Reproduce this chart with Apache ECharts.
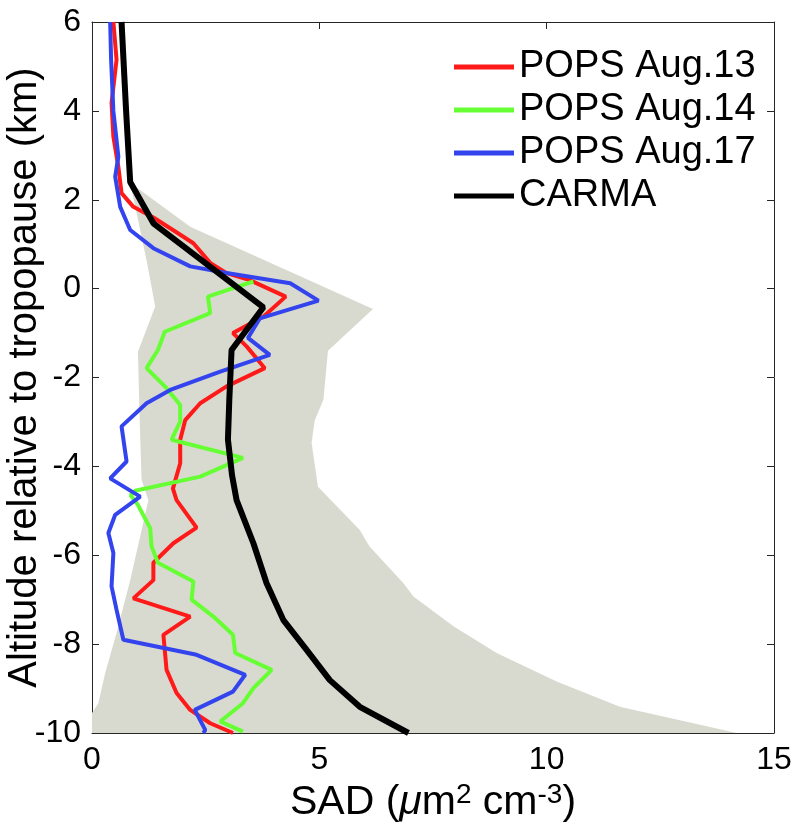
<!DOCTYPE html>
<html>
<head>
<meta charset="UTF-8">
<title>SAD profiles</title>
<script src="https://cdn.jsdelivr.net/npm/echarts@6/dist/echarts.min.js"></script>
<style>
  html, body { margin: 0; padding: 0; background: #fff; }
  #main { width: 796px; height: 838px; }
</style>
</head>
<body>
<div id="main"></div>
<script>
    // SAD (um^2 cm^-3) against altitude relative to tropopause (km)
    let aug13SAD = [0.47, 0.54, 0.43, 0.47, 0.58, 0.65, 0.91, 1.35, 1.78, 2.23, 2.6, 2.96, 3.47, 4.26, 3.78, 3.1, 3.4, 3.8, 2.96, 2.38, 2.05, 1.94, 1.94, 1.78, 1.86, 2.3, 1.79, 1.35, 1.35, 0.91, 2.16, 1.57, 1.64, 1.86, 2.16, 2.6, 3.1];
    let aug13Alt = [6, 5.15, 4.18, 3.42, 2.74, 2.15, 1.84, 1.6, 1.32, 1.02, 0.58, 0.35, 0.19, -0.18, -0.62, -1.0, -1.3, -1.79, -2.2, -2.58, -2.96, -3.4, -3.93, -4.5, -4.76, -5.38, -5.73, -6.17, -6.56, -6.97, -7.38, -7.79, -8.58, -9.1, -9.48, -9.78, -10];

    let aug14SAD = [3.55, 3.1, 2.55, 2.6, 1.6, 1.45, 1.2, 1.64, 1.94, 1.94, 1.75, 3.32, 2.38, 0.95, 0.85, 1.0, 1.28, 1.31, 1.45, 2.23, 2.19, 2.67, 3.1, 3.15, 3.95, 3.55, 3.32, 2.82, 3.32];
    let aug14Alt = [0.16, 0.01, -0.18, -0.55, -0.97, -1.38, -1.79, -2.24, -2.62, -2.99, -3.4, -3.81, -4.23, -4.55, -4.65, -4.85, -5.39, -5.8, -6.17, -6.59, -7.0, -7.38, -7.79, -8.2, -8.58, -8.99, -9.33, -9.74, -9.97];

    let aug17SAD = [0.4, 0.42, 0.47, 0.58, 0.51, 0.62, 0.84, 1.35, 2.16, 2.96, 4.36, 4.98, 3.69, 3.43, 3.91, 2.82, 1.72, 1.2, 0.65, 0.76, 0.4, 1.06, 0.51, 0.36, 0.47, 0.43, 0.54, 0.69, 2.3, 3.37, 3.1, 2.26, 2.49, 2.45];
    let aug17Alt = [6, 5.15, 4.0, 2.97, 2.52, 1.84, 1.32, 0.91, 0.5, 0.35, 0.12, -0.27, -0.67, -1.11, -1.49, -1.87, -2.28, -2.58, -3.1, -3.89, -4.27, -4.68, -5.09, -5.5, -5.95, -6.7, -7.23, -7.9, -8.24, -8.69, -9.07, -9.48, -9.93, -10];

    let carmaSAD = [0.65, 0.75, 0.84, 1.35, 3.77, 3.07, 3.02, 2.99, 3.08, 3.18, 3.55, 3.84, 4.21, 4.72, 5.23, 5.89, 6.96];
    let carmaAlt = [6, 4, 2.4, 1.47, -0.42, -1.38, -2.5, -3.4, -4.2, -4.76, -5.73, -6.63, -7.46, -8.13, -8.81, -9.41, -10];

    // shaded range outline: right edge going down, then left edge going back up
    let bandSAD = [0.84, 2.16, 6.18, 5.19, 5.09, 4.9, 4.83, 4.97, 5.89, 6.1, 6.85, 7.07, 7.95, 8.9, 10.22, 11.61, 14.18, 0, 0, 0.14, 0.29, 0.54, 0.84, 1.24, 1.09, 1.05, 1.01, 1.39, 1.2];
    let bandAlt = [2.38, 1.39, -0.46, -1.4, -2.5, -2.96, -3.47, -4.46, -5.43, -5.8, -6.63, -6.93, -7.6, -8.2, -8.84, -9.41, -10, -10, -9.55, -9.33, -8.65, -7.75, -6.56, -4.76, -4.3, -3.0, -1.42, -0.4, 0.64];

    let xTicks = [0, 5, 10, 15];
    let yTicks = [-10, -8, -6, -4, -2, 0, 2, 4, 6];

    function zip(xs, ys) {
        return xs.map((x, i) => [x, ys[i]]);
    }

    let font = 'Liberation Sans, Arial, Helvetica, sans-serif';
    let axisColor = '#262626';
    let bandPoints = zip(bandSAD, bandAlt);

    let chart = echarts.init(document.getElementById('main'));

    let tickStyle = { show: true, inside: true, length: 7, lineStyle: { color: axisColor, width: 1 } };
    let lineStyleAxis = { show: true, onZero: false, lineStyle: { color: axisColor, width: 1 } };

    let option = {
        animation: false,
        backgroundColor: '#fff',
        grid: { left: 92, right: 22, top: 22, bottom: 105, containLabel: false, outerBoundsMode: 'none' },
        legend: {
            orient: 'vertical',
            left: 449,
            top: 43,
            icon: 'rect',
            itemWidth: 60,
            itemHeight: 5,
            itemGap: 5,
            textStyle: { fontFamily: font, fontSize: 38, color: '#000', lineHeight: 38 },
            data: ['POPS Aug.13', 'POPS Aug.14', 'POPS Aug.17', 'CARMA']
        },
        xAxis: [{
            type: 'value',
            min: xTicks[0],
            max: xTicks[xTicks.length - 1],
            interval: 5,
            position: 'bottom',
            axisLine: lineStyleAxis,
            axisTick: tickStyle,
            splitLine: { show: false },
            axisLabel: { margin: 11, fontFamily: font, fontSize: 32, color: '#000' },
            name: '{a|SAD (}{i|μ}{a|m}{s|2}{a| cm}{s|-3}{a|)}',
            nameLocation: 'middle',
            nameGap: 44,
            nameTextStyle: {
                rich: {
                    a: { fontFamily: font, fontSize: 41, color: '#000' },
                    i: { fontFamily: font, fontSize: 41, color: '#000', fontStyle: 'italic' },
                    s: { fontFamily: font, fontSize: 28, color: '#000', padding: [0, 0, 16, 0] }
                }
            }
        }, {
            type: 'value',
            min: xTicks[0],
            max: xTicks[xTicks.length - 1],
            interval: 5,
            position: 'top',
            axisLine: lineStyleAxis,
            axisTick: tickStyle,
            splitLine: { show: false },
            axisLabel: { show: false }
        }],
        yAxis: [{
            type: 'value',
            min: yTicks[0],
            max: yTicks[yTicks.length - 1],
            interval: 2,
            position: 'left',
            axisLine: lineStyleAxis,
            axisTick: tickStyle,
            splitLine: { show: false },
            axisLabel: { margin: 11, fontFamily: font, fontSize: 32, color: '#000' },
            name: 'Altitude relative to tropopause (km)',
            nameLocation: 'middle',
            nameGap: 47,
            nameMoveOverlap: false,
            nameTextStyle: { fontFamily: font, fontSize: 40, color: '#000' }
        }, {
            type: 'value',
            min: yTicks[0],
            max: yTicks[yTicks.length - 1],
            interval: 2,
            position: 'right',
            axisLine: lineStyleAxis,
            axisTick: tickStyle,
            splitLine: { show: false },
            axisLabel: { show: false }
        }],
        series: [
            {
                type: 'custom',
                name: 'range',
                xAxisIndex: 0,
                yAxisIndex: 0,
                data: bandPoints,
                z: 1,
                silent: true,
                renderItem: function (params, api) {
                    if (params.dataIndex !== 0) return null;
                    let pts = bandPoints.map(p => api.coord(p));
                    return {
                        type: 'polygon',
                        shape: { points: pts },
                        style: { fill: '#d9dacf' }
                    };
                }
            },
            {
                type: 'line', name: 'POPS Aug.13', data: zip(aug13SAD, aug13Alt),
                symbol: 'none', z: 3, color: '#ff1a1a',
                lineStyle: { color: '#ff1a1a', width: 4 }
            },
            {
                type: 'line', name: 'POPS Aug.14', data: zip(aug14SAD, aug14Alt),
                symbol: 'none', z: 3, color: '#66ff33',
                lineStyle: { color: '#66ff33', width: 4 }
            },
            {
                type: 'line', name: 'POPS Aug.17', data: zip(aug17SAD, aug17Alt),
                symbol: 'none', z: 3, color: '#3344ee',
                lineStyle: { color: '#3344ee', width: 4 }
            },
            {
                type: 'line', name: 'CARMA', data: zip(carmaSAD, carmaAlt),
                symbol: 'none', z: 4, color: '#000',
                lineStyle: { color: '#000', width: 6 }
            }
        ]
    };

    chart.setOption(option);
</script>
</body>
</html>
